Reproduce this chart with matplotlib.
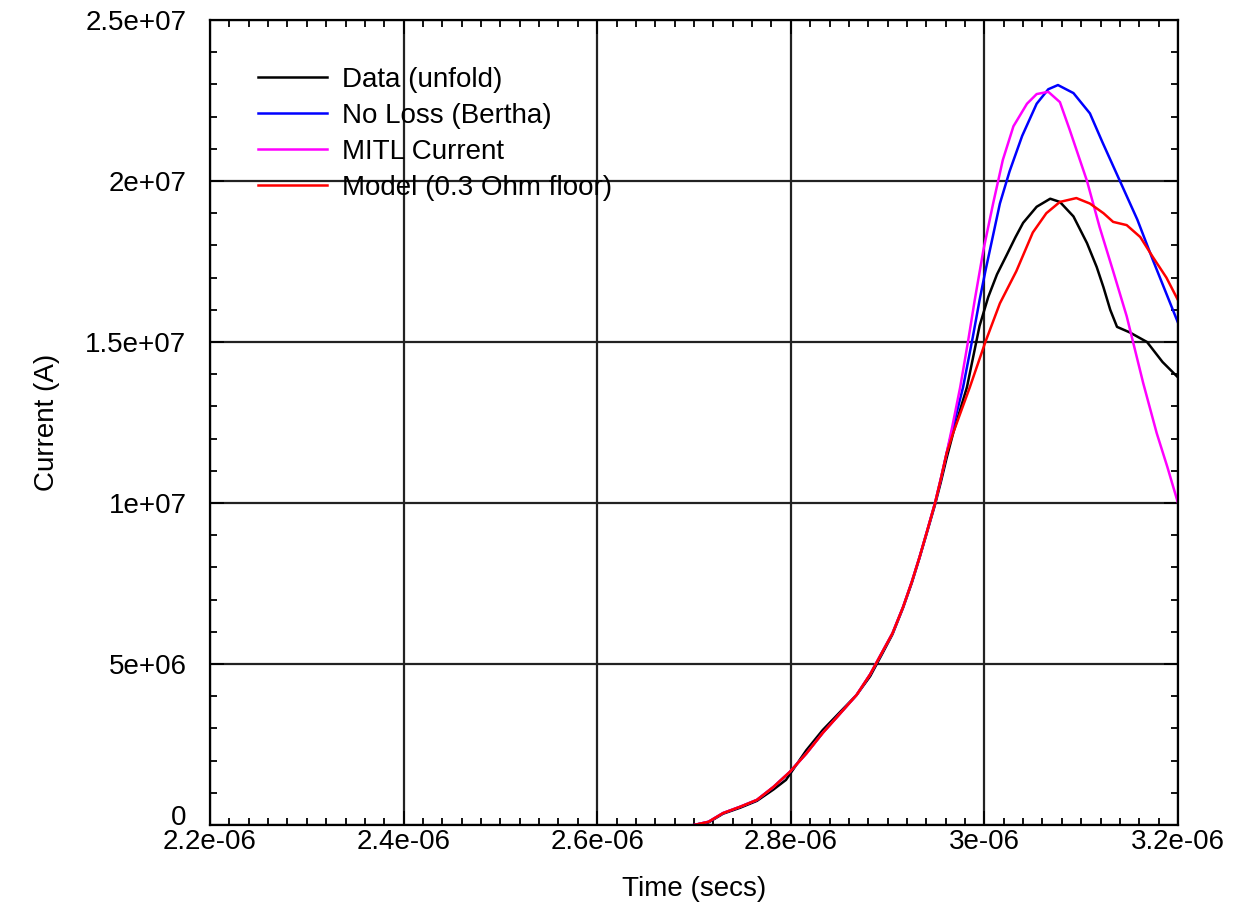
import numpy as np
import matplotlib
matplotlib.use("Agg")
import matplotlib.pyplot as plt
import matplotlib.transforms as mtransforms
from matplotlib.ticker import MultipleLocator, FuncFormatter

plt.rcParams['font.family'] = ['Liberation Sans', 'DejaVu Sans']

# common rising edge (time in microseconds, current in 1e7 A)
t_rise = [2.700, 2.715, 2.730, 2.748, 2.765, 2.782, 2.799, 2.816, 2.833, 2.850,
          2.868, 2.882, 2.895, 2.905, 2.916, 2.925, 2.933, 2.941, 2.949, 2.955,
          2.961]
i_rise = [0.0, 0.010, 0.037, 0.057, 0.078, 0.118, 0.165, 0.222, 0.286, 0.343,
          0.404, 0.468, 0.540, 0.595, 0.677, 0.755, 0.832, 0.915, 1.000, 1.075,
          1.155]

# small wiggle of the measured data on the rise
t_data_rise = [2.700, 2.715, 2.730, 2.748, 2.765, 2.782, 2.795, 2.803, 2.816, 2.833,
               2.850, 2.868, 2.882, 2.895, 2.905, 2.916, 2.925, 2.933, 2.941, 2.949,
               2.955, 2.961]
i_data_rise = [0.0, 0.008, 0.035, 0.054, 0.075, 0.110, 0.140, 0.175, 0.232, 0.295,
               0.348, 0.404, 0.462, 0.535, 0.592, 0.675, 0.752, 0.830, 0.912, 0.995,
               1.065, 1.140]

t_data = [2.968, 2.982, 2.995, 3.004, 3.013, 3.023, 3.032, 3.040, 3.054, 3.068,
          3.078, 3.092, 3.106, 3.116, 3.123, 3.130, 3.137, 3.150, 3.168, 3.184,
          3.200]
i_data = [1.22, 1.36, 1.55, 1.64, 1.71, 1.77, 1.825, 1.87, 1.92, 1.945,
          1.935, 1.89, 1.807, 1.733, 1.67, 1.60, 1.547, 1.53, 1.50, 1.438,
          1.39]

t_noloss = [2.968, 2.978, 2.988, 2.995, 3.001, 3.016, 3.026, 3.039, 3.054, 3.066,
            3.076, 3.092, 3.109, 3.122, 3.140, 3.158, 3.174, 3.188, 3.200]
i_noloss = [1.24, 1.36, 1.515, 1.63, 1.72, 1.93, 2.03, 2.14, 2.24, 2.285,
            2.298, 2.273, 2.21, 2.12, 2.00, 1.88, 1.755, 1.65, 1.56]

t_mitl = [2.967, 2.975, 2.983, 2.990, 2.999, 3.009, 3.019, 3.030, 3.044, 3.054,
          3.066, 3.078, 3.088, 3.106, 3.119, 3.133, 3.147, 3.164, 3.178, 3.189,
          3.200]
i_mitl = [1.24, 1.36, 1.50, 1.63, 1.786, 1.93, 2.065, 2.17, 2.24, 2.27,
          2.277, 2.245, 2.16, 2.00, 1.857, 1.72, 1.58, 1.373, 1.217, 1.112,
          1.0]

t_model = [2.968, 2.985, 3.001, 3.016, 3.033, 3.050, 3.064, 3.078, 3.095, 3.109,
           3.123, 3.133, 3.147, 3.161, 3.174, 3.188, 3.200]
i_model = [1.22, 1.36, 1.50, 1.62, 1.72, 1.84, 1.90, 1.935, 1.947, 1.93,
           1.90, 1.873, 1.863, 1.826, 1.764, 1.70, 1.63]

labels = ["Data (unfold)", "No Loss (Bertha)", "MITL Current", "Model (0.3 Ohm floor)"]
colors = ["#000000", "#0000ff", "#ff00ff", "#ff0000"]


def series(t_head, i_head, t_tail, i_tail):
    t = np.array(t_head + t_tail) * 1e-6
    i = np.array(i_head + i_tail) * 1e7
    return t, i


def sci(v, pos):
    if v == 0:
        return "0"
    return "{:g}".format(v)


def main():
    fig = plt.figure(figsize=(12.33, 9.08), dpi=100)
    ax = fig.add_axes([210 / 1233, 1 - 825 / 908, 968 / 1233, 805 / 908])

    curves = [
        series(t_data_rise, i_data_rise, t_data, i_data),
        series(t_rise, i_rise, t_noloss, i_noloss),
        series(t_rise, i_rise, t_mitl, i_mitl),
        series(t_rise, i_rise, t_model, i_model),
    ]
    for (t, i), lab, c in zip(curves, labels, colors):
        ax.plot(t, i, color=c, lw=1.8, label=lab)

    ax.set_xlim(2.2e-6, 3.2e-6)
    ax.set_ylim(0, 2.5e7)
    ax.xaxis.set_major_locator(MultipleLocator(0.2e-6))
    ax.xaxis.set_minor_locator(MultipleLocator(0.02e-6))
    ax.yaxis.set_major_locator(MultipleLocator(5e6))
    ax.yaxis.set_minor_locator(MultipleLocator(1e6))
    ax.xaxis.set_major_formatter(FuncFormatter(sci))
    ax.yaxis.set_major_formatter(FuncFormatter(sci))

    ax.grid(True, which='major', color='#222222', lw=1.6)
    ax.tick_params(which='both', direction='in', top=True, right=True,
                   labelsize=20, width=1.3, colors='black')
    ax.tick_params(which='major', length=10)
    ax.tick_params(which='minor', length=5)
    ax.tick_params(axis='y', pad=17)
    ax.tick_params(axis='x', pad=3)
    for sp in ax.spines.values():
        sp.set_linewidth(1.6)

    ax.set_xlabel("Time (secs)", fontsize=20, labelpad=15)
    ax.set_ylabel("Current (A)", fontsize=20, labelpad=18)

    ax.legend(loc='upper left', bbox_to_anchor=(48 / 968, 1 - 47 / 805),
              frameon=False, fontsize=20, handlelength=2.5,
              handletextpad=0.54, labelspacing=0.36, borderaxespad=0,
              borderpad=0)

    # the "0" label sits a little above the x tick labels
    fig.canvas.draw()
    lift = mtransforms.ScaledTranslation(0, 7 / 72, fig.dpi_scale_trans)
    for tick in ax.yaxis.get_major_ticks():
        if tick.get_loc() == 0:
            tick.label1.set_transform(tick.label1.get_transform() + lift)

    fig.savefig("out.png", dpi=100)


if __name__ == "__main__":
    main()
